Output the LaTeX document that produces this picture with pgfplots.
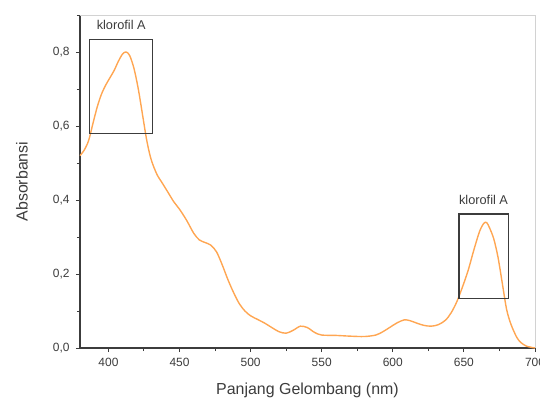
\documentclass[border=0pt]{standalone}
\usepackage{pgfplots}
\pgfplotsset{compat=1.18}
\usepackage{fontspec}
\setmainfont{Liberation Sans}
\definecolor{curve}{RGB}{255,166,82}
\definecolor{axisdark}{RGB}{60,60,60}
\pgfplotstableread{
x y
380 0.52
383 0.535
386 0.56
389 0.605
392 0.65
395 0.685
398 0.71
401 0.73
404 0.75
407 0.775
410 0.795
412.5 0.80
415 0.79
418 0.755
421 0.70
424 0.63
427 0.56
430 0.51
434 0.47
438 0.445
442 0.42
446 0.395
450 0.375
455 0.345
460 0.31
464 0.292
468 0.285
472 0.278
476 0.26
480 0.225
484 0.185
488 0.15
492 0.12
496 0.10
500 0.087
505 0.077
510 0.067
515 0.055
520 0.044
525 0.04
530 0.048
535 0.059
540 0.055
545 0.042
550 0.035
560 0.034
570 0.032
580 0.031
588 0.035
593 0.044
598 0.056
603 0.068
608 0.076
612 0.074
617 0.067
622 0.061
627 0.059
632 0.063
637 0.075
641 0.095
645 0.125
649 0.165
653 0.21
657 0.265
661 0.315
664 0.337
666 0.339
668 0.325
671 0.295
674 0.245
677 0.175
680 0.105
683 0.065
687 0.03
690 0.015
694 0.005
700 0.0
}\spectrum
\begin{document}
\begin{tikzpicture}
\begin{axis}[
  scale only axis,
  width=455bp, height=333bp,
  xmin=380, xmax=700, ymin=0, ymax=0.9,
  axis lines=left,
  axis line style={-, draw=axisdark, line width=1.4pt},
  xtick={400,450,...,700},
  ytick={0,0.2,...,0.8},
  minor tick num=1,
  extra y ticks={0.9},
  extra y tick labels={},
  extra y tick style={major tick length=3bp},
  tick align=outside,
  major tick length=4bp,
  minor tick length=3bp,
  every tick/.style={draw=axisdark, line width=1pt},
  tick pos=left,
  /pgf/number format/assume math mode=true,
  ticklabel style={font=\fontsize{12}{14}\selectfont, text=axisdark},
  yticklabel style={xshift=-3bp, /pgf/number format/.cd, fixed, fixed zerofill, precision=1, use comma},
  xticklabel style={yshift=-3bp, /pgf/number format/1000 sep={}},
  xlabel={Panjang Gelombang (nm)},
  ylabel={Absorbansi},
  every axis x label/.style={at={(axis description cs:0.5,-0.126)}, anchor=center},
  every axis y label/.style={at={(axis description cs:-0.1275,0.5)}, anchor=center, rotate=90},
  label style={font=\fontsize{16}{18}\selectfont, text=axisdark},
  clip=false,
]
\draw[gray!35, line width=1pt] (rel axis cs:0,1) -- (rel axis cs:1,1) -- (rel axis cs:1,0);
\addplot[curve, line width=1.4pt, smooth, tension=0.5] table[x=x, y=y] {\spectrum};
\draw[axisdark, line width=1.3pt] (axis cs:386.6,0.580) rectangle (axis cs:431.2,0.834);
\draw[axisdark, line width=1.3pt] (axis cs:646.5,0.134) rectangle (axis cs:681.2,0.362);
\node[font=\fontsize{12.8}{14}\selectfont, text=axisdark] at (axis cs:409,0.872) {klorofil A};
\node[font=\fontsize{12.8}{14}\selectfont, text=axisdark] at (axis cs:663.8,0.401) {klorofil A};
\end{axis}
\pgfresetboundingbox
\path[use as bounding box] ([xshift=-80bp,yshift=-51bp]current axis.south west) rectangle ([xshift=5bp,yshift=15bp]current axis.north east);
\end{tikzpicture}
\end{document}
